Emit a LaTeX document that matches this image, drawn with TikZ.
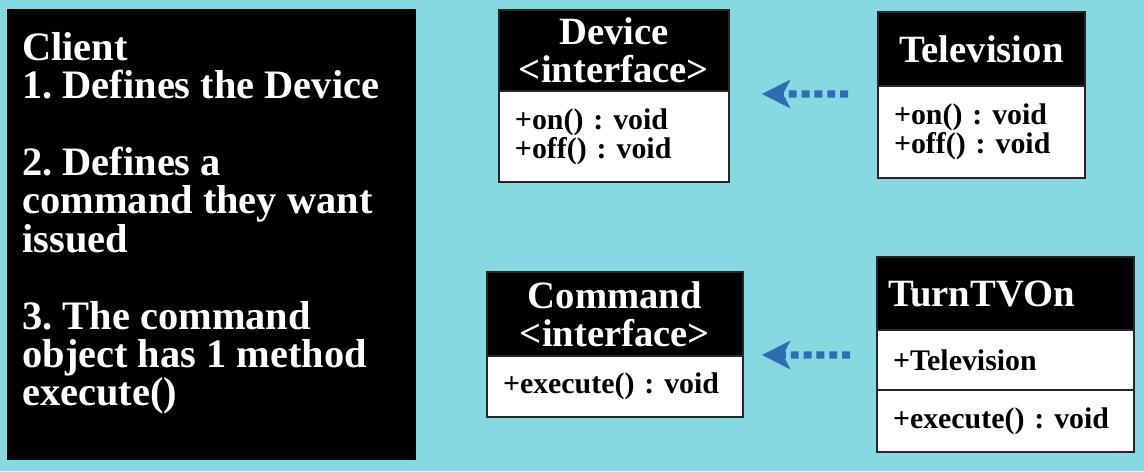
\documentclass[tikz,border=0pt]{standalone}
\usepackage{fontspec}
\setmainfont{Liberation Serif}
\usetikzlibrary{arrows.meta,positioning}

\definecolor{bgcyan}{HTML}{86D8E1}
\definecolor{depblue}{HTML}{2F6DB3}

\newcommand{\titlefont}{\fontsize{22}{21.8}\selectfont\bfseries}
\newcommand{\notefont}{\fontsize{23}{21.8}\selectfont\bfseries}
\newcommand{\memberfont}{\fontsize{17}{16.5}\selectfont\bfseries}
\frenchspacing

\tikzset{
  classhead/.style={fill=black, draw=black!85, line width=0.8pt, text=white,
    font=\titlefont, align=center, inner sep=0pt, outer sep=0pt, anchor=north west},
  classbody/.style={fill=white, draw=black!85, line width=0.8pt, font=\memberfont,
    align=left, inner xsep=0.32cm, inner ysep=0pt, outer sep=0pt},
  realizes/.style={draw=depblue, line width=4pt, dash pattern=on 4.5pt off 2.8pt,
    -{Stealth[length=16pt,width=16pt,inset=4pt]}}
}

\begin{document}
\begin{tikzpicture}[x=0.02cm, y=-0.02cm]
\fill[bgcyan] (0,0) rectangle (1144,471);
\useasboundingbox (0,0) rectangle (1144,471);

% client notes
\node[fill=black, minimum width=8.18cm, minimum height=9.02cm, anchor=north west] (client) at (7,9) {};
\node[text=white, font=\notefont, align=left, inner sep=0pt, anchor=north west]
  (clienttxt) at ([xshift=0.3cm, yshift=-0.46cm]client.north west)
  {Client\\1. Defines the Device\\[22pt]
   2. Defines a\\command they want\\issued\\[22pt]
   3. The command\\object has 1 method\\execute()};

% Device interface
\node[classhead, minimum width=4.6cm, minimum height=1.62cm] (devh) at (499,10) {Device\\<interface>};
\node[classbody, below=0pt of devh, text width=3.96cm, minimum height=1.82cm] (devb)
  {+on() : void\\+off() : void};

% Television
\node[classhead, minimum width=4.14cm, minimum height=1.48cm] (tvh) at (878,12) {Television};
\node[classbody, below=0pt of tvh, text width=3.5cm, minimum height=1.84cm] (tvb)
  {+on() : void\\+off() : void};

% Command interface
\node[classhead, minimum width=5.12cm, minimum height=1.68cm] (cmdh) at (487,272) {Command\\<interface>};
\node[classbody, below=0pt of cmdh, text width=4.48cm, minimum height=1.22cm] (cmdb)
  {+execute() : void};

% TurnTVOn
\node[classhead, align=left, inner xsep=0.22cm, text width=4.7cm, minimum height=1.46cm] (turnh) at (877,257) {TurnTVOn};
\node[classbody, below=0pt of turnh, text width=4.5cm, minimum height=1.2cm] (turna) {+Television};
\node[classbody, below=0pt of turna, text width=4.5cm, minimum height=1.24cm] (turno) {+execute() : void};

% realisation arrows
\draw[realizes, shorten <=0.6cm, shorten >=0.66cm]
  ([yshift=-0.16cm]tvh.south west) -- ([yshift=-0.06cm]devh.south east);
\draw[realizes, shorten <=0.54cm, shorten >=0.38cm]
  ([yshift=-0.5cm]turnh.south west) -- ([yshift=0.02cm]cmdh.south east);
\end{tikzpicture}
\end{document}
